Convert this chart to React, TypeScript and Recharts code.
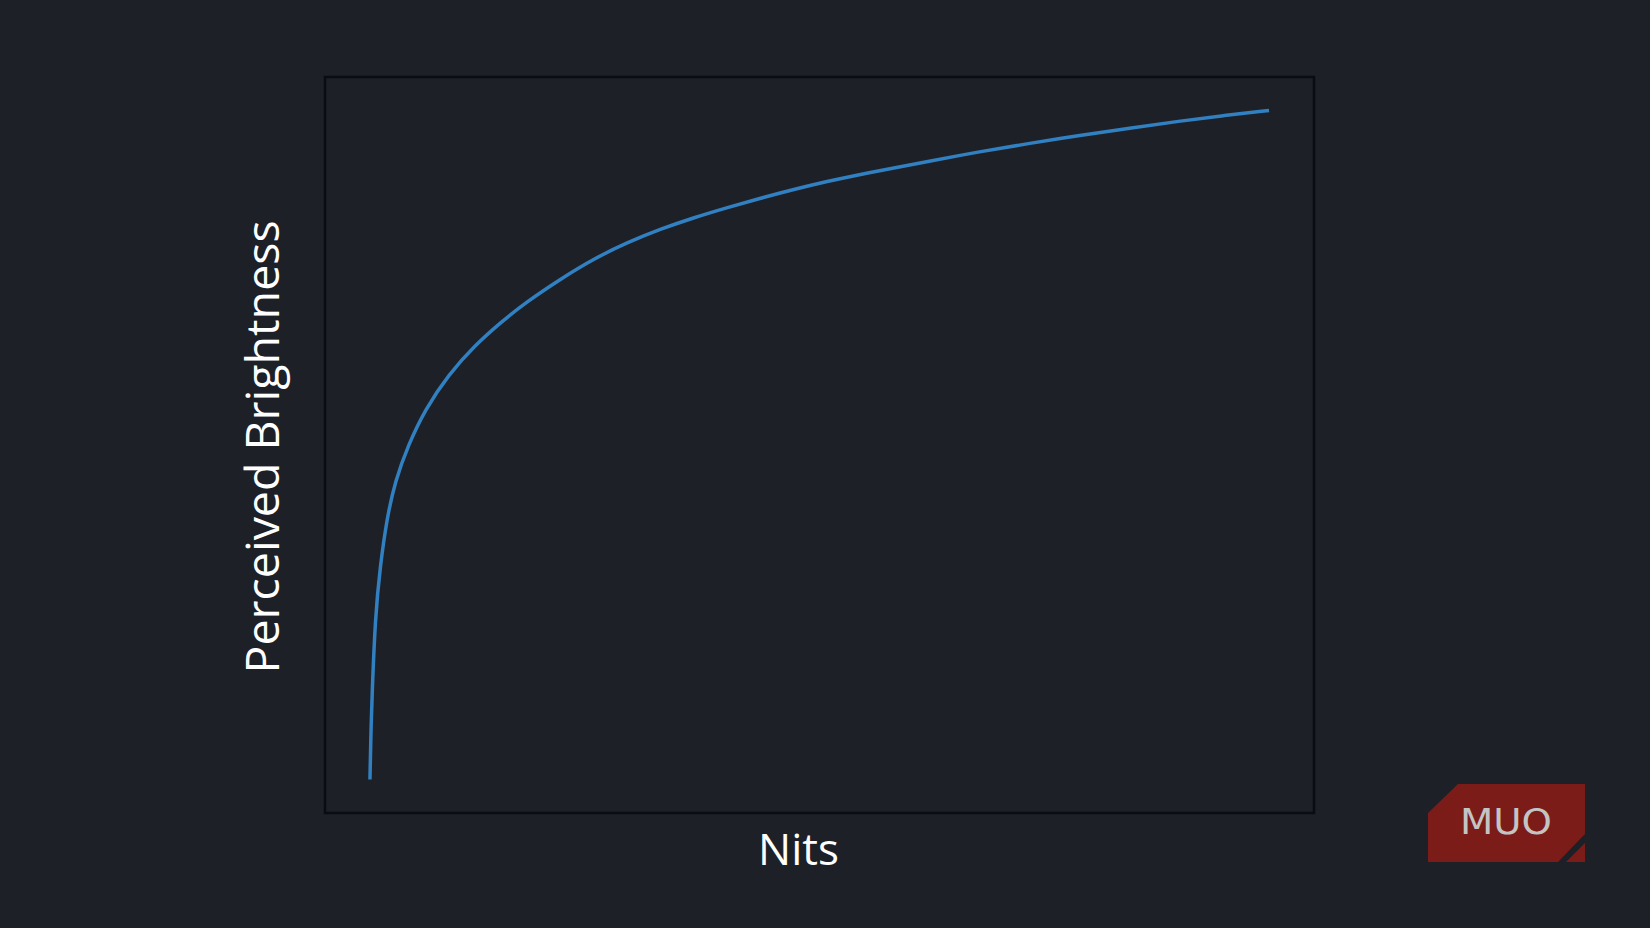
import { LineChart, Line, XAxis, YAxis, ReferenceArea } from 'recharts'

// nits (x) vs perceived brightness (y)
const nits = [0, 1.1, 2.2, 5.9, 11.4, 18.8, 28.0, 42.9, 61.3, 87.3, 116.7, 146.3, 172.2, 212.9, 249.8, 286.8, 323.7, 360.6, 397.7, 434.6, 471.5, 508.5, 545.5, 567.6, 619.4, 678.5, 734.0, 789.4, 845.0, 900.2, 950.0, 1000]
const brightness = [0, 7.1, 12.1, 24.4, 31.9, 39.0, 44.6, 50.1, 55.3, 60.5, 64.9, 68.4, 71.2, 74.9, 77.9, 80.3, 82.3, 84.0, 85.5, 86.9, 88.2, 89.4, 90.45, 91.0, 92.35, 93.85, 95.1, 96.25, 97.35, 98.4, 99.25, 100]

const xLabel = 'Nits'
const yLabel = 'Perceived Brightness'

const data = nits.map((n, i) => ({ nits: n, brightness: brightness[i] }))

const bg = '#1d2027'
const font = '"Open Sans", "Noto Sans", sans-serif'

const XLabel = (props: any) => {
  const vb = props.viewBox
  return (
    <text x={vb.x + vb.width / 2 - 21} y={vb.y + 52} textAnchor='middle' fill='#ffffff' fontSize={44} fontFamily={font}>
      {xLabel}
    </text>
  )
}

const YLabel = (props: any) => {
  const vb = props.viewBox
  const x = vb.x + 14
  const y = vb.y + vb.height / 2 + 2
  return (
    <text x={x} y={y} transform={`rotate(-90, ${x}, ${y})`} textAnchor='middle' fill='#ffffff' fontSize={46.5} fontFamily={font}>
      {yLabel}
    </text>
  )
}

function Logo () {
  return (
    <svg width={1650} height={928} style={{ position: 'absolute', left: 0, top: 0, pointerEvents: 'none' }}>
      <polygon points='1428,813 1458,784 1585,784 1585,834 1558,862 1428,862' fill='#7b1c18' />
      <polygon points='1585,843 1585,862 1566,862' fill='#7b1c18' />
      <text x={1506} y={834} textAnchor='middle' fill='#c4c4c4' fontSize={35} fontFamily='"DejaVu Sans", sans-serif' textLength={92} lengthAdjust='spacingAndGlyphs'>
        MUO
      </text>
    </svg>
  )
}

export default function App () {
  return (
    <div style={{ position: 'fixed', left: 0, top: 0, width: 1650, height: 928, background: bg }}>
      <LineChart
        width={1650}
        height={928}
        data={data}
        margin={{ top: 77, right: 336, bottom: 55, left: 265 }}
      >
        <XAxis
          dataKey='nits'
          type='number'
          domain={[-50, 1050]}
          height={60}
          tick={false}
          tickLine={false}
          axisLine={false}
          label={<XLabel />}
        />
        <YAxis
          type='number'
          domain={[-5, 105]}
          width={60}
          tick={false}
          tickLine={false}
          axisLine={false}
          label={<YLabel />}
        />
        <ReferenceArea x1={-50} x2={1050} y1={-5} y2={105} fill='none' stroke='#090c10' strokeWidth={2.5} ifOverflow='visible' />
        <Line
          type='basis'
          dataKey='brightness'
          stroke='#3180c1'
          strokeWidth={3.5}
          dot={false}
          isAnimationActive={false}
        />
      </LineChart>
      <Logo />
    </div>
  )
}
